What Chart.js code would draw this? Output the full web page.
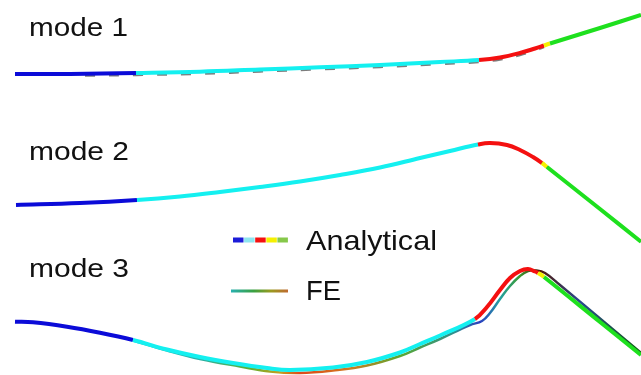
<!DOCTYPE html>
<html>
<head>
<meta charset="utf-8">
<script src="https://cdn.jsdelivr.net/npm/chart.js@4/dist/chart.umd.min.js"></script>
<style>
  html, body { margin: 0; padding: 0; background: #fff; }
  canvas { display: block; }
</style>
</head>
<body>
<canvas id="modes" width="641" height="375"></canvas>
<script>
// Mode shapes along the beam (drawing units, y grows downward)
const mode1X = [15, 70, 136, 200, 260, 320, 380, 440, 479, 500, 520, 535, 544, 550, 600, 641];
const mode1Y = [74, 74, 73, 71.7, 69.5, 67.3, 65, 62, 60, 57.5, 53, 48.5, 45.5, 43.5, 28, 15];
const mode2X = [16, 80, 137, 180, 220, 260, 300, 340, 380, 420, 450, 478, 490, 507, 520, 533, 542, 547, 600, 641];
const mode2Y = [205, 203, 200, 196.5, 192, 187, 181.5, 175, 167.5, 158, 151, 144.5, 143, 145, 150, 157, 163, 167, 209, 241.7];
const mode3X = [15, 33, 67, 100, 133, 167, 200, 233, 267, 290, 333, 367, 400, 420, 440, 475, 487, 500, 510, 520, 528, 535, 538, 544, 600, 641];
const mode3Y = [321.7, 322.3, 326.7, 332.7, 340, 349.5, 357, 363, 368, 370, 367.5, 362, 352.5, 344, 335.5, 319, 307, 290, 278, 271, 269, 271.5, 273, 277, 322, 355];

// FE results (only visible where they leave the analytical curve)
const fe1X = [85, 136, 200, 260, 320, 380, 440, 479, 500, 520, 535, 544];
const fe1Y = [75.8, 75.2, 73.9, 71.7, 69.5, 67.2, 64.2, 62.2, 59.7, 55.2, 50.7, 47.4];
const fe3X = [133, 167, 200, 240, 270, 300, 333, 367, 400, 420, 440, 470, 482, 490, 500, 510, 520, 528, 536, 545, 560, 600, 641];
const fe3Y = [340.5, 350.5, 359, 366.5, 371.5, 373, 370.5, 365.5, 356, 347.5, 339, 325, 321, 313, 299, 286, 276, 271, 270.5, 273, 285, 318.5, 353];

// x where the analytical colour bands change: blue | cyan | red | yellow | green
const mode1Breaks = [136, 479, 544, 550];
const mode2Breaks = [137, 478, 542, 547];
const mode3Breaks = [133, 475, 538, 544];

const bandColors = ['#0b0bd8', '#14f0f0', '#f41010', '#f5f000', '#1ee01e'];
const legendColors = ['#1c1cd8', '#8ee6f0', '#f41010', '#f5f000', '#86c84a'];

const labels = ['mode 1', 'mode 2', 'mode 3'];

function toPoints(xs, ys) {
    return xs.map((x, i) => ({ x: x, y: ys[i] }));
}

function bandColor(x, breaks) {
    let i = 0;
    while (i < breaks.length && x >= breaks[i]) i++;
    return bandColors[i];
}

function analytical(xs, ys, breaks) {
    return {
        label: 'Analytical',
        data: toPoints(xs, ys),
        showLine: true,
        pointRadius: 0,
        borderWidth: 4,
        borderColor: bandColors[0],
        tension: 0.4,
        order: 0,
        segment: {
            borderColor: ctx => bandColor(xs[ctx.p0DataIndex], breaks)
        }
    };
}

// FE colour ramp along the beam
const fe3Stops = [
    [133, '#20c0c0'], [200, '#2bb0a8'], [250, '#5fb030'], [280, '#c8a020'], [300, '#e04a1a'],
    [350, '#d07a20'], [400, '#5aa830'], [455, '#2f8f90'], [480, '#2a3fc0'],
    [500, '#24a0a0'], [520, '#3a9a30'], [540, '#501808'], [580, '#2a4a90'], [641, '#105a10']
];

function feGradient(stops) {
    return ctx => {
        const chart = ctx.chart;
        if (!chart.chartArea) return stops[0][1];
        const xs = chart.scales.x;
        const x0 = xs.getPixelForValue(stops[0][0]);
        const x1 = xs.getPixelForValue(stops[stops.length - 1][0]);
        const g = chart.ctx.createLinearGradient(x0, 0, x1, 0);
        stops.forEach(s => {
            g.addColorStop((xs.getPixelForValue(s[0]) - x0) / (x1 - x0), s[1]);
        });
        return g;
    };
}

const datasets = [
    analytical(mode1X, mode1Y, mode1Breaks),
    analytical(mode2X, mode2Y, mode2Breaks),
    analytical(mode3X, mode3Y, mode3Breaks),
    {
        label: 'FE',
        data: toPoints(fe1X, fe1Y),
        showLine: true,
        pointRadius: 0,
        borderWidth: 2,
        borderColor: 'rgba(70,70,70,0.7)',
        borderDash: [10, 14],
        tension: 0.4,
        order: 1
    },
    {
        label: 'FE',
        data: toPoints(mode2X, mode2Y),
        showLine: true,
        pointRadius: 0,
        borderWidth: 2,
        borderColor: '#2a8a50',
        tension: 0.4,
        order: 1
    },
    {
        label: 'FE',
        data: toPoints(fe3X, fe3Y),
        showLine: true,
        pointRadius: 0,
        borderWidth: 2.5,
        borderColor: feGradient(fe3Stops),
        tension: 0.4,
        order: 1
    }
];

// text squeezed/stretched to a given width
function fitText(c, text, x, y, size, width) {
    c.save();
    c.font = size + 'px "Liberation Sans", Arial, sans-serif';
    c.fillStyle = '#111';
    c.textBaseline = 'alphabetic';
    const w = c.measureText(text).width;
    c.translate(x, y);
    c.scale(width / w, 1);
    c.fillText(text, 0, 0);
    c.restore();
}

const annotations = {
    id: 'annotations',
    afterDraw(chart) {
        const c = chart.ctx;
        fitText(c, labels[0], 29, 36, 25, 99);
        fitText(c, labels[1], 29, 160, 25, 100);
        fitText(c, labels[2], 29, 277, 25, 100);

        // legend: Analytical
        const segW = 10.5, gap = 0.6;
        legendColors.forEach((col, i) => {
            c.fillStyle = col;
            c.fillRect(233 + i * (segW + gap), 237.5, segW, 5);
        });
        fitText(c, 'Analytical', 306, 249.5, 28, 131);

        // legend: FE
        const g = c.createLinearGradient(231, 0, 288, 0);
        g.addColorStop(0, '#28b0b0');
        g.addColorStop(0.4, '#3aa040');
        g.addColorStop(0.7, '#9a9a20');
        g.addColorStop(1, '#c06a30');
        c.strokeStyle = g;
        c.lineWidth = 3;
        c.beginPath();
        c.moveTo(231, 291);
        c.lineTo(288, 291);
        c.stroke();
        fitText(c, 'FE', 306, 300, 28, 35);
    }
};

new Chart(document.getElementById('modes'), {
    type: 'scatter',
    data: { datasets: datasets },
    options: {
        responsive: false,
        animation: false,
        layout: { padding: 0 },
        scales: {
            x: { type: 'linear', display: false, min: 0, max: 641 },
            y: { type: 'linear', display: false, min: 0, max: 375, reverse: true }
        },
        plugins: {
            legend: { display: false },
            tooltip: { enabled: false }
        },
        clip: false
    },
    plugins: [annotations]
});
</script>
</body>
</html>
